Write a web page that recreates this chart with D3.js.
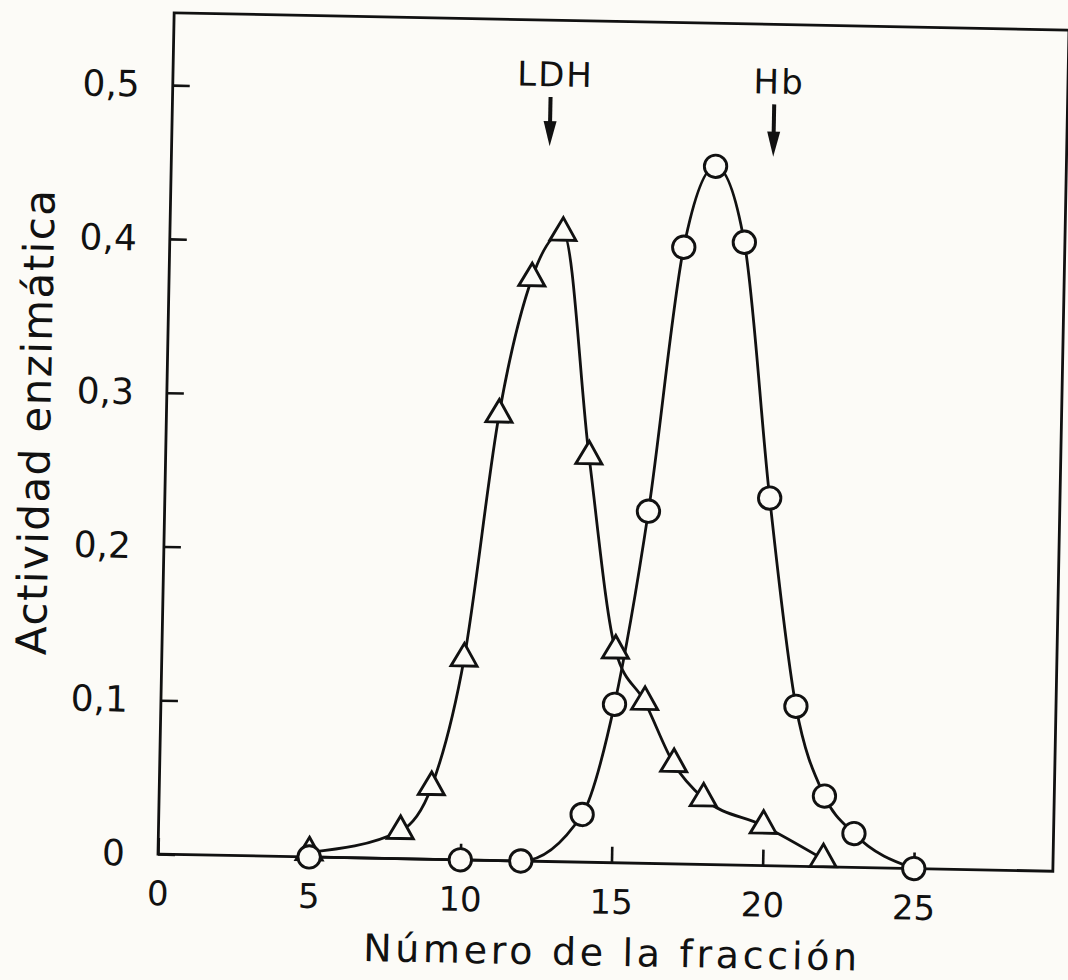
<!DOCTYPE html>
<html>
<head>
<meta charset="utf-8">
<script src="https://cdn.jsdelivr.net/npm/d3@7"></script>
<style>
  html, body { margin: 0; padding: 0; background: #fcfbf7; }
  svg { display: block; }
</style>
</head>
<body>
<svg id="chart" width="1068" height="980"></svg>
<script>
// ---- data ----
const fractionLDH = [5, 8, 9, 10, 11, 12, 13, 14, 15, 16, 17, 18, 20, 22];
const activityLDH = [0.003, 0.018, 0.047, 0.131, 0.290, 0.379, 0.409, 0.264, 0.138, 0.105, 0.065, 0.043, 0.026, 0.005];

const fractionHb = [5, 10, 12, 14, 15, 16, 17, 18, 19, 20, 21, 22, 23, 25];
const activityHb = [0, 0, 0, 0.031, 0.103, 0.229, 0.401, 0.454, 0.405, 0.239, 0.104, 0.046, 0.022, 0];

const xTicks = [0, 5, 10, 15, 20, 25];
const xTickLabels = ["0", "5", "10", "15", "20", "25"];
const yTicks = [0, 0.1, 0.2, 0.3, 0.4, 0.5];
const yTickLabels = ["0", "0,1", "0,2", "0,3", "0,4", "0,5"];

const markerNames = ["LDH", "Hb"];
const markerLabelX = [12.65, 20.05];
const markerLabelY = [0.504, 0.502];
const markerArrowX = [12.5, 19.9];
const markerArrowTop = [0.497, 0.495];
const markerArrowTip = [0.465, 0.461];

const xTitle = "Número de la fracción";
const yTitle = "Actividad enzimática";

// ---- layout ----
const svg = d3.select("#chart");
const ink = "#111111";
const paper = "#fcfbf7";
const font = "DejaVu Sans, sans-serif";

const x = d3.scaleLinear().domain([0, 29.6]).range([158, 1053]);
const y = d3.scaleLinear().domain([0, 0.547]).range([854, 12.7]);

// the scanned figure is slightly tilted
const g = svg.append("g").attr("transform", "rotate(1.1,157,854)");

// frame
g.append("rect")
  .attr("x", x(0)).attr("y", y(0.547))
  .attr("width", x(29.6) - x(0)).attr("height", y(0) - y(0.547))
  .attr("fill", "none").attr("stroke", ink).attr("stroke-width", 2.8);

// axes
const yAxis = d3.axisLeft(y)
  .tickValues(yTicks)
  .tickFormat((d, i) => yTickLabels[i])
  .tickSizeInner(-17).tickSizeOuter(0).tickPadding(33);
const yg = g.append("g").attr("transform", `translate(${x(0)},0)`).call(yAxis);

const xAxis = d3.axisBottom(x)
  .tickValues(xTicks)
  .tickFormat((d, i) => xTickLabels[i])
  .tickSizeInner(-16).tickSizeOuter(0).tickPadding(27);
const xg = g.append("g").attr("transform", `translate(0,${y(0)})`).call(xAxis);

[yg, xg].forEach(a => {
  a.select(".domain").remove();
  a.selectAll(".tick line").attr("stroke", ink).attr("stroke-width", 2.6);
});
yg.selectAll(".tick text")
  .attr("fill", ink)
  .style("font-family", font)
  .style("font-size", "36px");
xg.selectAll(".tick text")
  .attr("fill", ink)
  .style("font-family", font)
  .style("font-size", "34px");

// axis titles
g.append("text")
  .attr("x", (x(0) + x(29.6)) / 2 + 6.5).attr("y", 957)
  .attr("text-anchor", "middle")
  .attr("textLength", 494).attr("lengthAdjust", "spacing")
  .attr("fill", ink)
  .style("font-family", font).style("font-size", "38px")
  .text(xTitle);

g.append("text")
  .attr("transform", `translate(42,${y(0.279)}) rotate(-90)`)
  .attr("text-anchor", "middle")
  .attr("textLength", 465).attr("lengthAdjust", "spacing")
  .attr("fill", ink)
  .style("font-family", font).style("font-size", "42px")
  .text(yTitle);

// curves
const line = d3.line()
  .x(d => x(d[0]))
  .y(d => y(d[1]))
  .curve(d3.curveMonotoneX);

const ldh = fractionLDH.map((f, i) => [f, activityLDH[i]]);
const hb = fractionHb.map((f, i) => [f, activityHb[i]]);

g.append("path").attr("d", line(ldh))
  .attr("fill", "none").attr("stroke", ink).attr("stroke-width", 2.8);
g.append("path").attr("d", line(hb))
  .attr("fill", "none").attr("stroke", ink).attr("stroke-width", 2.8);

// triangles (LDH)
const side = 26;
const triSize = Math.pow(side / (2 * Math.sqrt(3)), 2) * 3 * Math.sqrt(3);
g.selectAll("path.tri").data(ldh).enter().append("path")
  .attr("class", "tri")
  .attr("d", d3.symbol().type(d3.symbolTriangle).size(triSize))
  .attr("transform", d => `translate(${x(d[0])},${y(d[1])})`)
  .attr("fill", paper).attr("stroke", ink).attr("stroke-width", 2.9)
  .attr("stroke-linejoin", "miter");

// circles (Hb)
g.selectAll("circle.hb").data(hb).enter().append("circle")
  .attr("class", "hb")
  .attr("cx", d => x(d[0])).attr("cy", d => y(d[1]))
  .attr("r", 11.2)
  .attr("fill", paper).attr("stroke", ink).attr("stroke-width", 2.9);

// peak markers (LDH, Hb) with arrows
markerNames.forEach((name, i) => {
  g.append("text")
    .attr("x", x(markerLabelX[i])).attr("y", y(markerLabelY[i]))
    .attr("text-anchor", "middle")
    .attr("fill", ink)
    .style("font-family", font).style("font-size", "34px")
    .style("letter-spacing", "2px")
    .text(name);
  const ax = x(markerArrowX[i]);
  const yTop = y(markerArrowTop[i]);
  const yTip = y(markerArrowTip[i]);
  const headLen = 25, headHalf = 6.5;
  g.append("line")
    .attr("x1", ax).attr("x2", ax)
    .attr("y1", yTop).attr("y2", yTip - headLen + 2)
    .attr("stroke", ink).attr("stroke-width", 4);
  const p = d3.path();
  p.moveTo(ax - headHalf, yTip - headLen);
  p.lineTo(ax + headHalf, yTip - headLen);
  p.lineTo(ax, yTip);
  p.closePath();
  g.append("path").attr("d", p.toString()).attr("fill", ink);
});
</script>
</body>
</html>
